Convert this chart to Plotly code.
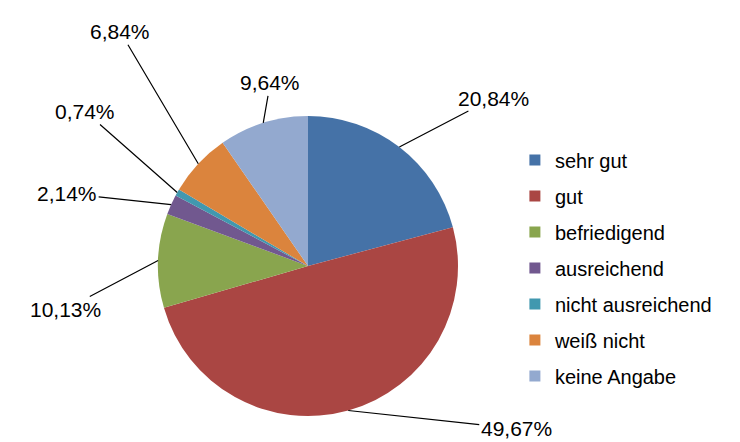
import math
import plotly.graph_objects as go

categories = ["sehr gut", "gut", "befriedigend", "ausreichend",
              "nicht ausreichend", "weiß nicht", "keine Angabe"]
values = [20.84, 49.67, 10.13, 2.14, 0.74, 6.84, 9.64]
label_texts = ["20,84%", "49,67%", "10,13%", "2,14%", "0,74%", "6,84%", "9,64%"]
colors = ["#4572A7", "#AA4643", "#89A54E", "#71588F", "#4198AF", "#DB843D", "#93A9CF"]

# label offsets (pixels) from slice edge, styling only
label_dx = [94, 168, -93, -104, -92, -78, 7]
label_dy = [-49, 18, 49, -11, -81, -132, -40]

W, H = 740, 442
cx, cy, R = 300, 258, 150  # pie centre / radius in pixels (layout)
FONT = "Liberation Sans, Arial"

fig = go.Figure()
fig.add_trace(go.Pie(
    labels=categories, values=values, sort=False, direction="clockwise",
    rotation=0, textinfo="none", hoverinfo="label+percent", showlegend=False,
    marker=dict(colors=colors, line=dict(width=0)),
    domain=dict(x=[(cx - R) / W, (cx + R) / W],
                y=[(H - cy - R) / H, (H - cy + R) / H]),
))

# legend entries (no visible marks)
for name, col in zip(categories, colors):
    fig.add_trace(go.Scatter(
        x=[None], y=[None], mode="markers", name=name, legendgroup=name,
        marker=dict(symbol="square", size=11, color=col),
        showlegend=True, hoverinfo="skip",
    ))

total = sum(values)
cum = 0.0
annotations = []
for v, t, dx, dy in zip(values, label_texts, label_dx, label_dy):
    mid = (cum + v / 2) / total * 2 * math.pi
    cum += v
    px = cx + R * math.sin(mid)
    py = cy - R * math.cos(mid)
    annotations.append(dict(
        x=px / W, y=1 - py / H, xref="paper", yref="paper",
        text=t, showarrow=True, arrowhead=0, arrowwidth=1.2, arrowcolor="#000000",
        ax=dx, ay=dy, standoff=0, startstandoff=0,
        font=dict(family=FONT, size=21, color="#000000"),
    ))

fig.update_layout(
    width=W, height=H, margin=dict(l=0, r=0, t=0, b=0),
    paper_bgcolor="white", plot_bgcolor="white",
    xaxis=dict(visible=False), yaxis=dict(visible=False),
    annotations=annotations,
    showlegend=True,
    legend=dict(x=0.685, y=0.70, xanchor="left", yanchor="top",
                font=dict(family=FONT, size=20, color="#000000"),
                tracegroupgap=7, itemwidth=30, bgcolor="rgba(0,0,0,0)"),
)

fig.write_html("out.html")
